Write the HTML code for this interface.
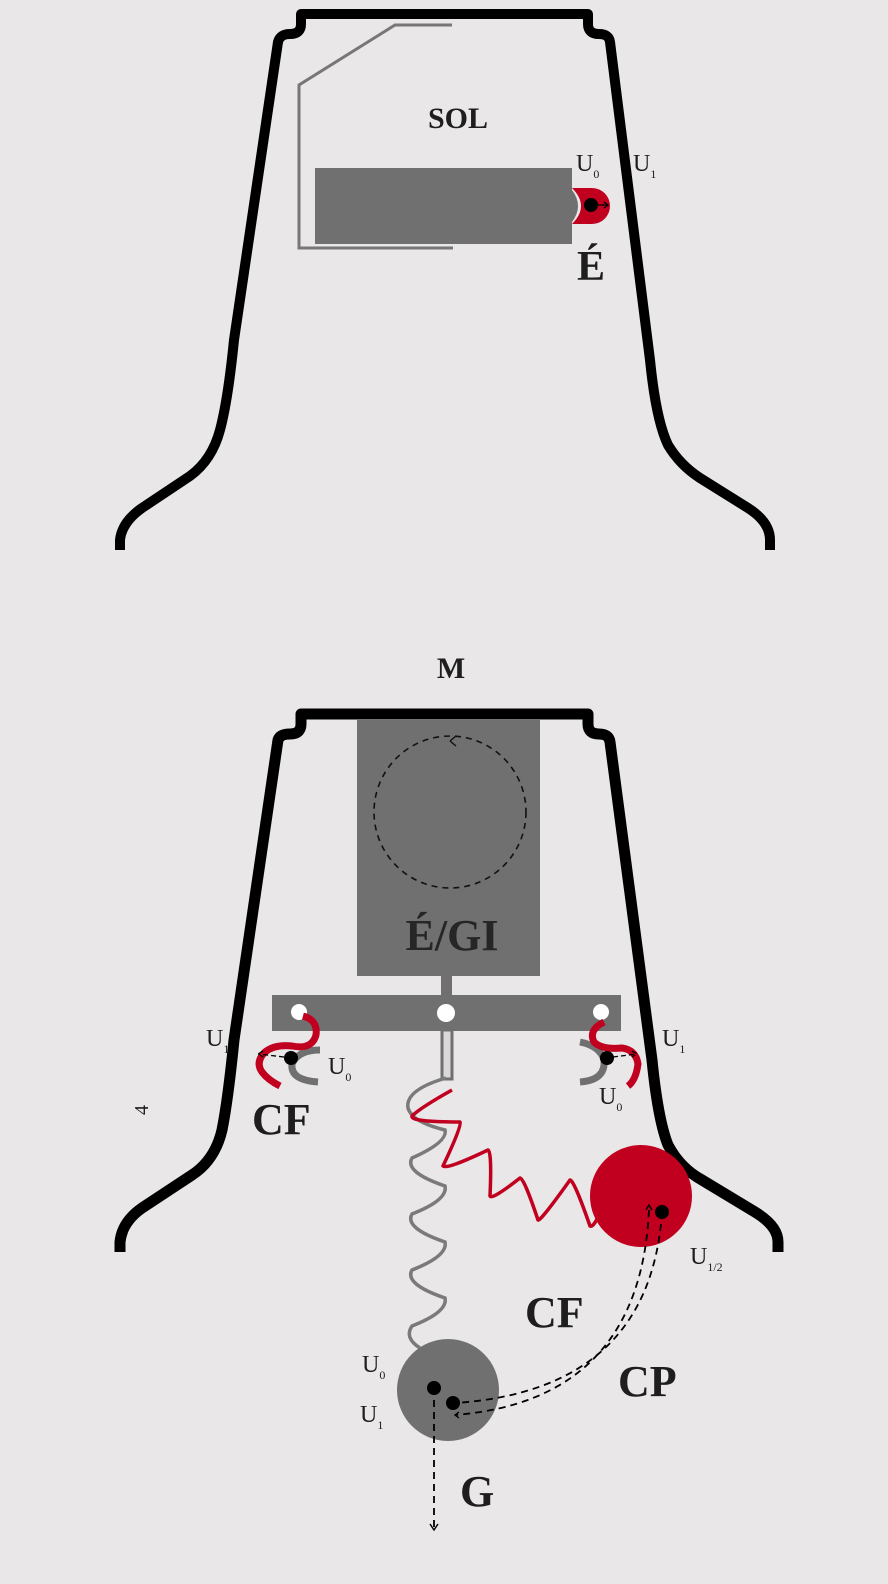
<!DOCTYPE html>
<html><head><meta charset="utf-8"><style>
html,body{margin:0;padding:0;background:#e9e7e8;}
svg{display:block}
text{font-family:"Liberation Serif",serif;fill:#1e1e1e}
.b{font-weight:bold}
</style></head><body>
<svg width="888" height="1584" viewBox="0 0 888 1584" xmlns="http://www.w3.org/2000/svg">
<rect width="888" height="1584" fill="#e9e7e8"/>
<!-- top bell -->
<path d="M120,550 L120,540 Q122,522 142,508 L190,476 Q212,460 220,430 Q228,400 234,340 L278,42 Q280,34 290,34 Q301,34 301,24 L301,14 L588,14 L588,24 Q588,34 599,34 Q609,34 610,42 L650,360 Q656,420 668,445 Q680,465 700,478 L748,508 Q770,522 770,540 L770,550" fill="none" stroke="#000" stroke-width="10" stroke-linejoin="round"/>
<path d="M452,25 L395,25 L299,85 L299,248 L453,248" fill="none" stroke="#777" stroke-width="3"/>
<rect x="315" y="168" width="257" height="76" fill="#707071"/>
<path d="M572,188 L592,188 A18,18 0 0 1 592,224 L572,224 Q590,206 572,188Z" fill="#c0001e"/>
<path d="M572,190 Q584,206 572,222 Z" fill="#707071"/>
<circle cx="591" cy="205" r="7" fill="#000"/>
<path d="M597,205 L607,205 M604,202 L608,205 L604,208" stroke="#000" stroke-width="1.3" fill="none"/>
<text x="458" y="128" class="b" font-size="30" text-anchor="middle">SOL</text>
<text x="576" y="171" font-size="24">U<tspan font-size="12" dy="7">0</tspan></text>
<text x="633" y="171" font-size="24">U<tspan font-size="12" dy="7">1</tspan></text>
<text x="591" y="280" class="b" font-size="42" text-anchor="middle">É</text>

<!-- bottom bell -->
<text x="451" y="678" class="b" font-size="30" text-anchor="middle">M</text>
<path d="M120,1252 L120,1242 Q122,1222 142,1208 L192,1175 Q215,1160 222,1130 Q228,1100 234,1040 L278,740 Q280,734 290,734 Q301,734 301,724 L301,714 L588,714 L588,724 Q588,734 599,734 Q609,734 610,742 L652,1060 Q658,1120 668,1145 Q680,1168 702,1180 L755,1212 Q778,1226 778,1242 L778,1252" fill="none" stroke="#000" stroke-width="11" stroke-linejoin="round"/>
<rect x="357" y="720" width="183" height="256" fill="#707071"/>
<circle cx="450" cy="812" r="76" fill="none" stroke="#111" stroke-width="1.6" stroke-dasharray="6,5"/>
<path d="M450,741 L456,736 M450,741 L456,746" stroke="#111" stroke-width="1.4"/>
<text x="452" y="950" class="b" font-size="44" text-anchor="middle" style="fill:#262626">É/GI</text>
<rect x="441" y="976" width="11" height="20" fill="#707071"/>
<rect x="442" y="1030" width="10" height="49" fill="#d9d9d9" stroke="#707071" stroke-width="3"/>
<rect x="272" y="995" width="349" height="36" fill="#707071"/>
<circle cx="446" cy="1013" r="9" fill="#fff"/>
<circle cx="299" cy="1012" r="8" fill="#fff"/>
<circle cx="601" cy="1012" r="8" fill="#fff"/>
<!-- left hook -->
<path d="M320,1050 Q298,1050 292,1064 Q290,1080 318,1082" fill="none" stroke="#707071" stroke-width="7"/>
<path d="M303,1016 Q318,1020 316,1035 Q312,1050 292,1046 Q275,1044 265,1052 Q255,1062 262,1072 Q268,1080 280,1086" fill="none" stroke="#c0001e" stroke-width="7"/>
<circle cx="291" cy="1058" r="7" fill="#000"/>
<path d="M284,1057 L258,1054 M263,1051 L258,1054 L263,1057" stroke="#000" stroke-width="1.3" stroke-dasharray="5,3" fill="none"/>
<!-- right hook -->
<path d="M580,1042 Q600,1046 604,1060 Q606,1080 580,1082" fill="none" stroke="#707071" stroke-width="7"/>
<path d="M604,1022 Q588,1030 594,1042 Q602,1050 622,1048 Q636,1050 638,1064 Q636,1080 628,1086" fill="none" stroke="#c0001e" stroke-width="7"/>
<circle cx="607" cy="1058" r="7" fill="#000"/>
<path d="M613,1057 L637,1054 M632,1051 L637,1054 L632,1057" stroke="#000" stroke-width="1.3" stroke-dasharray="5,3" fill="none"/>
<text x="206" y="1046" font-size="24">U<tspan font-size="12" dy="7">1</tspan></text>
<text x="328" y="1074" font-size="24">U<tspan font-size="12" dy="7">0</tspan></text>
<text x="662" y="1046" font-size="24">U<tspan font-size="12" dy="7">1</tspan></text>
<text x="599" y="1104" font-size="24">U<tspan font-size="12" dy="7">0</tspan></text>
<text x="252" y="1134" class="b" font-size="44">CF</text>
<text x="148" y="1110" font-size="20" transform="rotate(-90 148 1110)" text-anchor="middle">4</text>
<!-- springs -->
<path d="M446,1078 Q405,1090 408,1108 Q412,1122 445,1130 Q448,1142 412,1158 Q404,1172 445,1186 Q448,1200 412,1214 Q404,1228 445,1242 Q448,1256 412,1270 Q404,1284 445,1298 Q448,1312 412,1326 Q404,1338 420,1348" fill="none" stroke="#7a7a7a" stroke-width="3.5"/>
<path d="M452,1090 Q420,1108 412,1116 Q410,1122 460,1122 Q462,1126 443,1166 Q446,1170 488,1150 Q492,1152 490,1196 Q492,1200 520,1178 Q524,1178 538,1220 Q540,1222 570,1180 Q574,1180 590,1226 Q594,1228 602,1208" fill="none" stroke="#c0001e" stroke-width="3.5" stroke-linejoin="round"/>
<circle cx="641" cy="1196" r="51" fill="#c0001e"/>
<circle cx="448" cy="1390" r="51" fill="#707071"/>
<circle cx="662" cy="1212" r="7" fill="#000"/>
<circle cx="434" cy="1388" r="7" fill="#000"/>
<circle cx="453" cy="1403" r="7" fill="#000"/>
<path d="M662,1212 Q650,1390 455,1403" fill="none" stroke="#000" stroke-width="1.8" stroke-dasharray="7,5"/>
<path d="M649,1210 Q640,1400 455,1415" fill="none" stroke="#000" stroke-width="1.8" stroke-dasharray="7,5"/>
<path d="M646,1210 L649,1205 L652,1210" fill="none" stroke="#000" stroke-width="1.4"/>
<path d="M459,1412 L455,1415 L459,1418" fill="none" stroke="#000" stroke-width="1.4"/>
<path d="M434,1388 L434,1528" stroke="#000" stroke-width="1.8" stroke-dasharray="7,5"/>
<path d="M430,1524 L434,1530 L438,1524" fill="none" stroke="#000" stroke-width="1.4"/>
<text x="690" y="1264" font-size="24">U<tspan font-size="12" dy="7">1/2</tspan></text>
<text x="525" y="1327" class="b" font-size="44">CF</text>
<text x="618" y="1396" class="b" font-size="44">CP</text>
<text x="362" y="1372" font-size="24">U<tspan font-size="12" dy="7">0</tspan></text>
<text x="360" y="1422" font-size="24">U<tspan font-size="12" dy="7">1</tspan></text>
<text x="460" y="1506" class="b" font-size="44">G</text>
</svg>
</body></html>
